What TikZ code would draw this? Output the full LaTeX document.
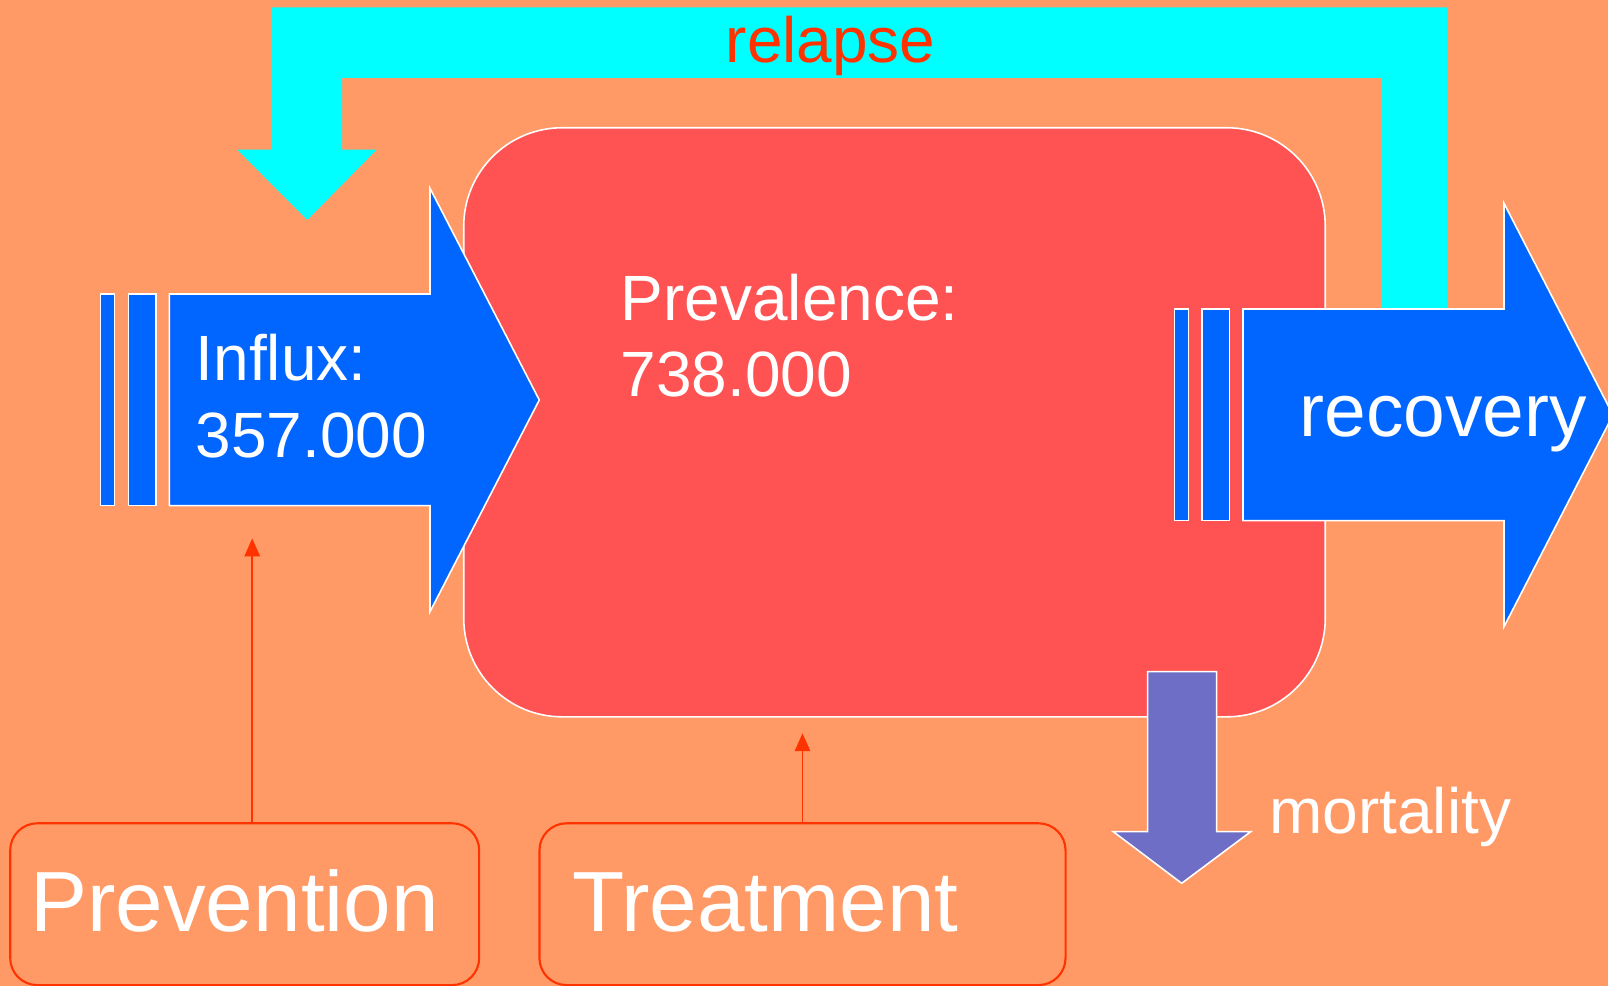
\documentclass[tikz,border=0pt]{standalone}
\usepackage{fontspec}
\setmainfont{Liberation Sans}
\usetikzlibrary{arrows.meta,positioning,calc}
\definecolor{bgcolor}{HTML}{FF9966}
\definecolor{stockcolor}{HTML}{FF5252}
\definecolor{flowcolor}{HTML}{0066FF}
\definecolor{relapsecolor}{HTML}{00FFFF}
\definecolor{deathcolor}{HTML}{6E6EC6}
\definecolor{linkcolor}{HTML}{FF3300}

\begin{document}
\begin{tikzpicture}[x=0.01cm, y=-0.01cm,
  flow/.style={fill=flowcolor, draw=white, line width=0.45pt},
  stock/.style={fill=stockcolor, draw=white, line width=0.45pt, rounded corners=28pt},
  lever/.style={draw=linkcolor, line width=0.6pt, rounded corners=7.7pt, inner sep=0pt},
  link/.style={draw=linkcolor, line width=0.45pt, -{Triangle[length=5.1pt,width=4.4pt]}},
  txt/.style={text=white, inner sep=0pt, anchor=base west, align=left,
              font=\fontsize{18.2pt}{21.8pt}\selectfont},
  bigtxt/.style={txt, font=\fontsize{24.3pt}{29pt}\selectfont}]
  % background
  \useasboundingbox (0,0) rectangle (1608,986);
  \fill[bgcolor] (0,0) rectangle (1608,986);
  \clip (0,0) rectangle (1608,986);
  % relapse loop
  \fill[relapsecolor] (1447,309) -- (1447,7.3) -- (271.7,7.3) -- (271.7,149.7) -- (237.3,149.7)
    -- (307.3,220) -- (376.7,149.7) -- (342,149.7) -- (342,78) -- (1381,78) -- (1381,309) -- cycle;
  \node[txt, text=linkcolor] (relapse) at (725,62.7) {relapse};
  % Prevalence stock (base = last line)
  \node[stock, minimum width=8.61cm, minimum height=5.887cm] (stock) at (894.5,422.3) {};
  \node[txt] (prevalence) at (620,396.7) {Prevalence:\\738.000};
  % Influx arrow
  \filldraw[flow] (100.7,294) rectangle (114.7,505.7);
  \filldraw[flow] (128.7,294) rectangle (156,505.7);
  \filldraw[flow] (169.3,294) -- (430,294) -- (430,188.3) -- (539.3,400) -- (430,611.7)
    -- (430,505.7) -- (169.3,505.7) -- cycle;
  \node[txt] (influx) at (195,457.3) {Influx:\\357.000};
  % recovery arrow
  \filldraw[flow] (1174.3,309) rectangle (1188.7,520.7);
  \filldraw[flow] (1202,309) rectangle (1229.7,520.7);
  \filldraw[flow] (1243,309) -- (1504,309) -- (1504,203.3) -- (1613,415) -- (1504,626.7)
    -- (1504,520.7) -- (1243,520.7) -- cycle;
  \node[txt, font=\fontsize{21.3pt}{25pt}\selectfont] (recovery) at (1299,436.7) {recovery};
  % mortality arrow
  \filldraw[flow, fill=deathcolor] (1147.7,671.7) -- (1216.7,671.7) -- (1216.7,831.7) -- (1250.7,831.7)
    -- (1181.7,883.3) -- (1113.3,831.7) -- (1147.7,831.7) -- cycle;
  \node[txt] (mortality) at (1268.6,834) {mortality};
  % levers
  \node[lever, minimum width=4.687cm, minimum height=1.617cm] (prevbox) at (244.7,904.2) {};
  \node[bigtxt] (prevention) at (29.6,931.7) {Prevention};
  \node[lever, minimum width=5.258cm, minimum height=1.617cm] (treatbox) at (802.5,904.2) {};
  \node[bigtxt] (treatment) at (571.6,931.7) {Treatment};
  \coordinate (preventip) at (252.2,538.4);
  \coordinate (treattip) at (802.5,733.3);
  \draw[link] (preventip |- prevbox.north) -- (preventip);
  \draw[link] (treatbox.north) -- (treattip);
\end{tikzpicture}
\end{document}
